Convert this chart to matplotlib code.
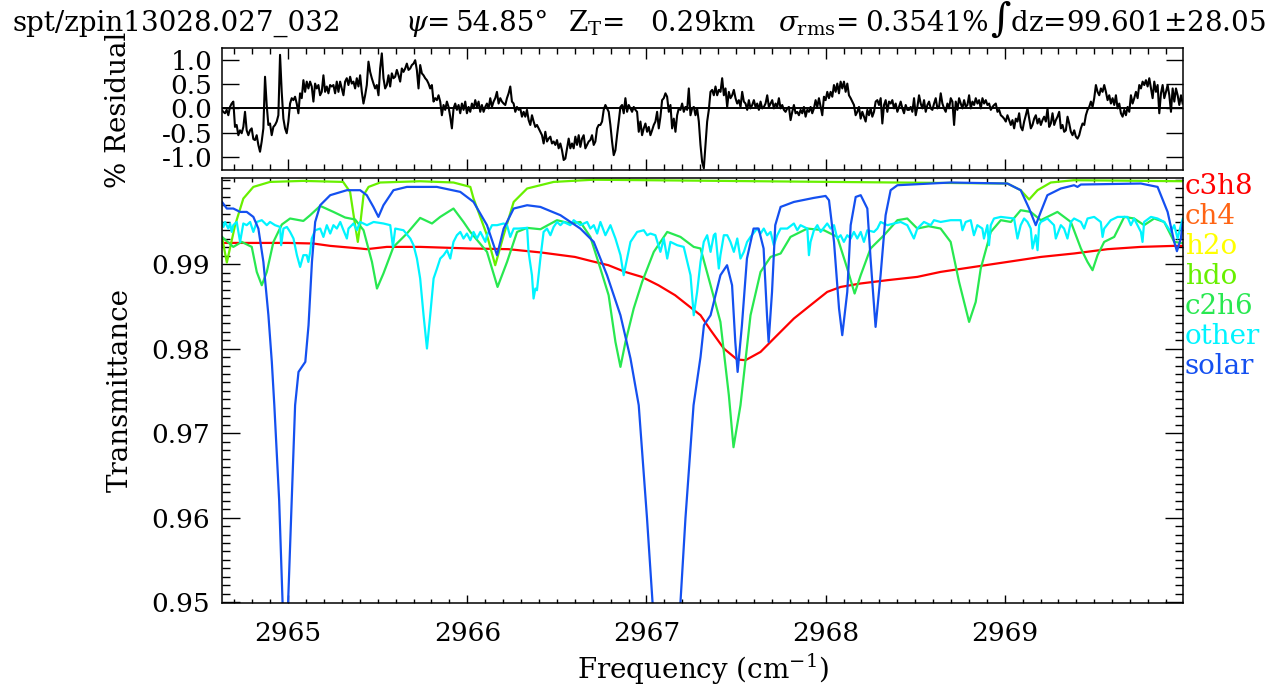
import numpy as np
import matplotlib.pyplot as plt
from matplotlib.ticker import MultipleLocator, FixedLocator, FormatStrFormatter

plt.rcParams['font.family'] = ['DejaVu Serif']
plt.rcParams['mathtext.fontset'] = 'dejavuserif'

# ---- residual (%) on an even frequency grid
resid_start, resid_end = 2964.629, 2969.993
resid = [
    -0.03, -0.07, -0.10, -0.03, -0.14, 0.03, 0.10, 0.14, -0.38, -0.34,
    -0.55, -0.45, -0.51, -0.38, -0.07, -0.45, -0.55, -0.45, -0.41, -0.63,
    -0.65, -0.55, -0.75, -0.89, -0.68, -0.41, 0.65, 0.07, -0.34, -0.31,
    -0.55, -0.38, -0.34, -0.27, -0.14, 1.10, 0.34, -0.21, -0.41, -0.51,
    -0.27, 0.10, 0.21, 0.17, 0.24, 0.10, -0.10, 0.31, 0.21, 0.58,
    0.34, 0.55, 0.41, 0.55, 0.45, 0.14, 0.51, 0.41, 0.48, 0.27,
    0.34, 0.68, 0.34, 0.45, 0.31, 0.48, 0.45, 0.48, 0.31, 0.55,
    0.34, 0.55, 0.41, 0.27, 0.55, 0.62, 0.48, 0.65, 0.51, 0.55,
    0.41, 0.62, 0.45, 0.68, 0.34, 0.10, 0.27, 0.48, 0.96, 0.75,
    0.62, 0.51, 0.41, 0.48, 0.27, 0.82, 1.13, 0.62, 0.41, 0.48,
    0.68, 0.45, 0.72, 0.62, 0.65, 0.79, 0.68, 0.55, 0.82, 0.75,
    0.82, 0.92, 0.79, 0.82, 0.89, 0.92, 0.99, 0.79, 0.41, 0.89,
    0.72, 0.68, 0.62, 0.58, 0.51, 0.41, 0.48, 0.14, 0.21, 0.17,
    0.27, 0.14, -0.14, 0.07, -0.03, 0.14, 0.03, -0.17, -0.41, 0.00,
    0.10, -0.03, 0.07, -0.10, 0.10, -0.03, 0.14, -0.10, 0.03, -0.07,
    0.10, 0.00, 0.17, 0.03, 0.14, -0.07, 0.07, -0.07, 0.03, 0.10,
    0.00, 0.21, 0.03, 0.14, 0.21, 0.34, 0.10, 0.21, 0.14, 0.10,
    0.07, 0.21, 0.31, 0.45, 0.14, 0.10, -0.07, 0.03, -0.03, 0.00,
    -0.17, -0.07, -0.17, -0.03, -0.24, -0.34, -0.14, -0.27, -0.38, -0.34,
    -0.41, -0.48, -0.55, -0.72, -0.48, -0.68, -0.62, -0.58, -0.72, -0.68,
    -0.75, -0.65, -0.82, -0.72, -0.86, -1.06, -1.03, -0.82, -0.62, -0.82,
    -0.72, -0.82, -0.58, -0.75, -0.55, -0.79, -0.62, -0.55, -0.82, -0.75,
    -0.68, -0.65, -0.55, -0.75, -0.68, -0.41, -0.34, -0.34, -0.27, -0.03,
    0.07, 0.00, -0.07, -0.34, -0.68, -0.96, -0.86, -0.55, -0.27, 0.03,
    0.07, -0.10, 0.21, -0.07, 0.07, 0.00, -0.07, 0.03, -0.03, -0.07,
    -0.48, -0.27, -0.55, -0.41, -0.31, -0.48, -0.38, -0.55, -0.45, -0.34,
    -0.27, -0.07, -0.41, -0.17, 0.17, 0.21, 0.31, 0.24, -0.07, 0.07,
    -0.41, -0.21, -0.48, -0.14, 0.00, -0.03, 0.10, -0.07, 0.03, -0.03,
    0.41, -0.14, 0.00, 0.03, -0.14, 0.00, -0.27, -0.75, -1.10,
    -1.23, -0.75, -0.27, -0.03, 0.34, 0.38, 0.27, 0.45, 0.27, 0.38,
    0.34, 0.62, 0.27, 0.41, 0.03, 0.34, 0.21, 0.27, 0.38, 0.21,
    0.10, 0.17, 0.03, 0.34, 0.14, 0.10, -0.03, 0.17, 0.00, 0.07,
    0.17, 0.03, 0.10, -0.03, 0.14, 0.00, 0.03, 0.10, 0.27, 0.03,
    0.10, 0.17, 0.00, 0.10, 0.03, 0.21, 0.00, 0.07, -0.03, -0.07,
    0.00, 0.03, -0.24, -0.07, 0.07, -0.10, -0.07, -0.14, -0.03, -0.10,
    0.03, -0.17, -0.03, -0.07, 0.03, -0.10, 0.00, 0.17, 0.03, 0.21,
    0.03, -0.14, 0.24, 0.17, 0.34, 0.21, 0.34, 0.24, 0.48, 0.34,
    0.51, 0.31, 0.55, 0.41, 0.55, 0.34, 0.51, 0.27, 0.21, 0.14,
    0.07, -0.14, -0.07, 0.03, -0.21, -0.07, -0.17, -0.27, -0.03, -0.14,
    0.00, -0.17, -0.07, 0.14, 0.17, 0.07, 0.21, -0.31, 0.07, 0.17,
    -0.07, 0.14, 0.10, 0.17, 0.00, 0.10, -0.07, 0.03, 0.14, 0.00,
    -0.10, 0.07, -0.03, -0.03, 0.03, -0.07, 0.21, -0.14, 0.03, 0.27,
    0.10, 0.00, 0.17, -0.07, 0.07, 0.14, 0.00, -0.03, 0.10, 0.21,
    0.00, 0.03, 0.31, 0.10, 0.00, -0.07, 0.10, 0.00, 0.21, 0.14,
    -0.34, 0.14, -0.03, 0.21, 0.10, 0.00, 0.17, 0.03, 0.07, 0.27,
    0.00, 0.14, 0.07, 0.21, 0.10, 0.17, 0.00, 0.21, 0.10, 0.17,
    0.07, 0.10, -0.03, 0.03, 0.07, 0.10, -0.07, -0.03, -0.14, -0.17,
    -0.21, -0.27, -0.14, -0.24, -0.34, -0.24, -0.41, -0.21, -0.27, -0.10,
    -0.38, -0.45, -0.27, -0.14, 0.00, -0.21, -0.41, -0.34, -0.21, -0.14,
    -0.31, -0.21, -0.34, -0.24, -0.17, -0.27, 0.00, -0.38, -0.31, -0.10,
    -0.34, -0.24, -0.17, -0.07, -0.41, -0.34, -0.48, -0.45, -0.17, -0.31,
    -0.48, -0.55, -0.45, -0.58, -0.62, -0.55, -0.41, -0.31, -0.34, -0.14,
    -0.03, 0.03, 0.14, 0.03, 0.21, 0.48, 0.34, 0.27, 0.41, 0.34,
    0.48, 0.34, 0.17, 0.27, 0.10, 0.21, 0.07, 0.27, 0.00, 0.10,
    -0.10, -0.17, -0.03, -0.14, 0.03, -0.07, 0.27, 0.10, 0.21, 0.34,
    0.21, 0.48, 0.41, 0.55, 0.48, 0.58, 0.45, 0.62, 0.41, 0.21,
    0.55, 0.34, 0.48, -0.10, 0.31, 0.48, 0.21, 0.34, 0.48, 0.27,
    -0.07, 0.41, 0.14, 0.41, 0.27, 0.07, 0.27, 0.10,
]

# ---- transmittance spectra (frequency in cm-1, transmittance)
c3h8_freq = [2964.631, 2965.000, 2965.140, 2965.235, 2965.402, 2965.439, 2965.551,
             2965.737, 2966.017, 2966.229, 2966.415, 2966.601, 2966.694, 2966.788,
             2966.881, 2966.974, 2967.067, 2967.160, 2967.254, 2967.302, 2967.358,
             2967.432, 2967.506, 2967.553, 2967.637, 2967.730, 2967.823, 2967.916,
             2968.009, 2968.084, 2968.196, 2968.345, 2968.512, 2968.642, 2968.828,
             2969.015, 2969.201, 2969.387, 2969.574, 2969.760, 2969.946, 2969.994]
c3h8_trans = [0.99252, 0.99252, 0.99245, 0.99217, 0.99186, 0.99178, 0.99205,
              0.99205, 0.99186, 0.99178, 0.99138, 0.99086, 0.99036, 0.98988,
              0.98909, 0.98850, 0.98751, 0.98633, 0.98476, 0.98396, 0.98220,
              0.98002, 0.97872, 0.97864, 0.97962, 0.98160, 0.98357, 0.98515,
              0.98672, 0.98731, 0.98772, 0.98811, 0.98850, 0.98909, 0.98968,
              0.99027, 0.99086, 0.99127, 0.99178, 0.99205, 0.99217, 0.99217]

hdo_freq = [2964.631, 2964.658, 2964.704, 2964.750, 2964.806, 2964.899, 2965.084,
            2965.307, 2965.346, 2965.374, 2965.389, 2965.402, 2965.421, 2965.449,
            2965.514, 2965.737, 2965.923, 2966.017, 2966.035, 2966.110, 2966.156,
            2966.203, 2966.259, 2966.334, 2966.482, 2966.704, 2969.015, 2969.089,
            2969.136, 2969.183, 2969.257, 2969.385, 2969.994]
hdo_trans = [0.99320, 0.99020, 0.99462, 0.99777, 0.99915, 0.99974, 0.99986,
             0.99974, 0.99856, 0.99462, 0.99264, 0.99462, 0.99817, 0.99915,
             0.99967, 0.99982, 0.99967, 0.99915, 0.99777, 0.99343, 0.98988,
             0.99343, 0.99737, 0.99896, 0.99974, 1.00000, 0.99955, 0.99876,
             0.99766, 0.99876, 0.99967, 0.99994, 0.99982]

c2h6_freq = [2964.631, 2964.694, 2964.741, 2964.797, 2964.825, 2964.853, 2964.881,
             2964.918, 2964.965, 2965.011, 2965.085, 2965.123, 2965.179, 2965.253,
             2965.318, 2965.374, 2965.421, 2965.468, 2965.496, 2965.532, 2965.588,
             2965.663, 2965.737, 2965.803, 2965.849, 2965.923, 2965.979, 2966.017,
             2966.110, 2966.169, 2966.222, 2966.278, 2966.334, 2966.408, 2966.501,
             2966.575, 2966.631, 2966.687, 2966.743, 2966.789, 2966.827, 2966.855,
             2966.883, 2966.929, 2966.976, 2967.041, 2967.116, 2967.190, 2967.264,
             2967.302, 2967.358, 2967.413, 2967.460, 2967.486, 2967.525, 2967.581,
             2967.637, 2967.693, 2967.749, 2967.804, 2967.898, 2967.991, 2968.065,
             2968.121, 2968.162, 2968.196, 2968.251, 2968.326, 2968.401, 2968.456,
             2968.512, 2968.575, 2968.642, 2968.698, 2968.745, 2968.801, 2968.838,
             2968.866, 2968.922, 2968.978, 2969.034, 2969.089, 2969.145, 2969.201,
             2969.294, 2969.369, 2969.425, 2969.462, 2969.490, 2969.518, 2969.555,
             2969.611, 2969.667, 2969.722, 2969.778, 2969.834, 2969.890, 2969.946,
             2969.994]
c2h6_trans = [0.99323, 0.99205, 0.99264, 0.99205, 0.98909, 0.98751, 0.98909,
              0.99264, 0.99470, 0.99541, 0.99512, 0.99580, 0.99690, 0.99619,
              0.99553, 0.99529, 0.99402, 0.99027, 0.98712, 0.98890, 0.99205,
              0.99363, 0.99548, 0.99482, 0.99560, 0.99659, 0.99500, 0.99382,
              0.99146, 0.98731, 0.99027, 0.99382, 0.99430, 0.99414, 0.99521,
              0.99482, 0.99500, 0.99323, 0.98949, 0.98633, 0.98080, 0.97785,
              0.98080, 0.98476, 0.98791, 0.99146, 0.99382, 0.99323, 0.99205,
              0.99186, 0.98751, 0.98317, 0.97450, 0.96834, 0.97331, 0.98396,
              0.98909, 0.99086, 0.99127, 0.99323, 0.99422, 0.99402, 0.99323,
              0.98949, 0.98653, 0.98870, 0.99186, 0.99343, 0.99521, 0.99541,
              0.99422, 0.99450, 0.99422, 0.99264, 0.98790, 0.98317, 0.98554,
              0.98949, 0.99382, 0.99521, 0.99500, 0.99639, 0.99619, 0.99521,
              0.99619, 0.99500, 0.99186, 0.99027, 0.98929, 0.99107, 0.99264,
              0.99323, 0.99560, 0.99541, 0.99462, 0.99541, 0.99500, 0.99264,
              0.99249]

other_freq = [2964.631, 2964.639, 2964.648, 2964.666, 2964.676, 2964.685, 2964.694,
              2964.713, 2964.732, 2964.750, 2964.769, 2964.788, 2964.806, 2964.825,
              2964.853, 2964.881, 2964.899, 2964.927, 2964.955, 2964.961, 2964.974,
              2964.993, 2965.011, 2965.030, 2965.049, 2965.067, 2965.085, 2965.104,
              2965.113, 2965.123, 2965.132, 2965.151, 2965.179, 2965.197, 2965.216,
              2965.235, 2965.253, 2965.272, 2965.291, 2965.309, 2965.328, 2965.337,
              2965.365, 2965.384, 2965.402, 2965.440, 2965.477, 2965.532, 2965.570,
              2965.585, 2965.598, 2965.644, 2965.682, 2965.700, 2965.719, 2965.737,
              2965.756, 2965.775, 2965.793, 2965.812, 2965.831, 2965.849, 2965.868,
              2965.887, 2965.905, 2965.923, 2965.942, 2965.961, 2965.979, 2965.998,
              2966.017, 2966.035, 2966.054, 2966.073, 2966.101, 2966.110, 2966.138,
              2966.166, 2966.203, 2966.222, 2966.240, 2966.259, 2966.287, 2966.334,
              2966.342, 2966.361, 2966.370, 2966.380, 2966.389, 2966.398, 2966.408,
              2966.426, 2966.445, 2966.464, 2966.482, 2966.501, 2966.520, 2966.538,
              2966.575, 2966.594, 2966.631, 2966.669, 2966.687, 2966.706, 2966.725,
              2966.743, 2966.771, 2966.799, 2966.827, 2966.855, 2966.873, 2966.892,
              2966.911, 2966.948, 2966.985, 2967.004, 2967.022, 2967.050, 2967.078,
              2967.097, 2967.116, 2967.134, 2967.172, 2967.208, 2967.246, 2967.264,
              2967.283, 2967.302, 2967.320, 2967.339, 2967.358, 2967.376, 2967.385,
              2967.404, 2967.413, 2967.432, 2967.451, 2967.469, 2967.488, 2967.507,
              2967.525, 2967.544, 2967.562, 2967.581, 2967.618, 2967.637, 2967.655,
              2967.674, 2967.693, 2967.711, 2967.730, 2967.749, 2967.786, 2967.823,
              2967.842, 2967.860, 2967.898, 2967.907, 2967.916, 2967.935, 2967.954,
              2967.972, 2968.009, 2968.028, 2968.047, 2968.065, 2968.084, 2968.102,
              2968.121, 2968.140, 2968.158, 2968.177, 2968.196, 2968.214, 2968.233,
              2968.270, 2968.289, 2968.307, 2968.345, 2968.382, 2968.419, 2968.456,
              2968.493, 2968.512, 2968.549, 2968.587, 2968.605, 2968.642, 2968.698,
              2968.754, 2968.764, 2968.782, 2968.810, 2968.828, 2968.847, 2968.875,
              2968.884, 2968.903, 2968.912, 2968.922, 2968.940, 2968.978, 2969.052,
              2969.071, 2969.089, 2969.108, 2969.127, 2969.145, 2969.155, 2969.173,
              2969.183, 2969.192, 2969.201, 2969.238, 2969.275, 2969.285, 2969.313,
              2969.331, 2969.350, 2969.369, 2969.387, 2969.425, 2969.443, 2969.462,
              2969.499, 2969.536, 2969.546, 2969.555, 2969.592, 2969.630, 2969.685,
              2969.704, 2969.722, 2969.760, 2969.769, 2969.778, 2969.816, 2969.853,
              2969.890, 2969.927, 2969.946, 2969.965, 2969.983, 2969.994]
other_trans = [0.99500, 0.99441, 0.99500, 0.99422, 0.99482, 0.99382, 0.99462,
               0.99500, 0.99264, 0.99482, 0.99462, 0.99500, 0.99382, 0.99500,
               0.99521, 0.99462, 0.99500, 0.99462, 0.99441, 0.99225, 0.99422,
               0.99441, 0.99382, 0.99304, 0.99107, 0.98968, 0.99107, 0.99107,
               0.99027, 0.99146, 0.99304, 0.99402, 0.99422, 0.99323, 0.99462,
               0.99363, 0.99462, 0.99422, 0.99500, 0.99402, 0.99304, 0.99422,
               0.99482, 0.99402, 0.99500, 0.99462, 0.99500, 0.99482, 0.99462,
               0.99205, 0.99422, 0.99402, 0.99304, 0.99225, 0.99067, 0.98831,
               0.98396, 0.98002, 0.98396, 0.98831, 0.98949, 0.99067, 0.99107,
               0.99166, 0.99067, 0.99264, 0.99343, 0.99382, 0.99304, 0.99363,
               0.99284, 0.99382, 0.99304, 0.99382, 0.99264, 0.99343, 0.99462,
               0.99462, 0.99482, 0.99462, 0.99323, 0.99422, 0.99422, 0.99430,
               0.99146, 0.98870, 0.98594, 0.98712, 0.98692, 0.98870, 0.99067,
               0.99382, 0.99422, 0.99343, 0.99441, 0.99500, 0.99462, 0.99500,
               0.99462, 0.99521, 0.99462, 0.99500, 0.99422, 0.99462, 0.99363,
               0.99500, 0.99343, 0.99462, 0.99304, 0.99107, 0.98870, 0.99067,
               0.99264, 0.99382, 0.99402, 0.99343, 0.99363, 0.99343, 0.99146,
               0.99304, 0.99067, 0.99264, 0.99225, 0.99205, 0.98870, 0.98396,
               0.98672, 0.99027, 0.99264, 0.99343, 0.99146, 0.99343, 0.99363,
               0.98949, 0.99107, 0.99343, 0.99343, 0.99264, 0.99146, 0.99304,
               0.99067, 0.99146, 0.99264, 0.99323, 0.99422, 0.99363, 0.99422,
               0.99343, 0.99382, 0.99225, 0.99343, 0.99422, 0.99422, 0.99482,
               0.99402, 0.99462, 0.99422, 0.99107, 0.99264, 0.99402, 0.99462,
               0.99382, 0.99482, 0.99422, 0.99462, 0.99304, 0.99343, 0.99264,
               0.99343, 0.99304, 0.99382, 0.99304, 0.99382, 0.99264, 0.99402,
               0.99382, 0.99422, 0.99500, 0.99462, 0.99482, 0.99500, 0.99462,
               0.99304, 0.99422, 0.99500, 0.99462, 0.99521, 0.99500, 0.99521,
               0.99521, 0.99402, 0.99500, 0.99521, 0.99343, 0.99462, 0.99422,
               0.99304, 0.99462, 0.99225, 0.99462, 0.99541, 0.99560, 0.99541,
               0.99304, 0.99462, 0.99541, 0.99500, 0.99422, 0.99186, 0.99343,
               0.99166, 0.99462, 0.99500, 0.99541, 0.99462, 0.99304, 0.99462,
               0.99422, 0.99304, 0.99500, 0.99541, 0.99500, 0.99422, 0.99541,
               0.99560, 0.99500, 0.99323, 0.99422, 0.99521, 0.99560, 0.99560,
               0.99462, 0.99541, 0.99382, 0.99264, 0.99500, 0.99560, 0.99541,
               0.99500, 0.99382, 0.99462, 0.99304, 0.99462, 0.99541]

solar_freq = [2964.631, 2964.658, 2964.694, 2964.732, 2964.769, 2964.806, 2964.834,
              2964.862, 2964.890, 2964.909, 2964.923, 2964.950, 2964.969, 2964.985,
              2965.000, 2965.020, 2965.039, 2965.058, 2965.077, 2965.096, 2965.114,
              2965.133, 2965.151, 2965.179, 2965.235, 2965.328, 2965.402, 2965.439,
              2965.476, 2965.504, 2965.532, 2965.588, 2965.663, 2965.830, 2965.961,
              2966.035, 2966.110, 2966.166, 2966.203, 2966.259, 2966.334, 2966.408,
              2966.520, 2966.631, 2966.706, 2966.780, 2966.855, 2966.911, 2966.957,
              2967.003, 2967.034, 2967.112, 2967.190, 2967.218, 2967.263, 2967.302,
              2967.321, 2967.358, 2967.413, 2967.450, 2967.478, 2967.496, 2967.509,
              2967.533, 2967.561, 2967.598, 2967.626, 2967.654, 2967.673, 2967.682,
              2967.701, 2967.719, 2967.749, 2967.823, 2967.935, 2968.000, 2968.019,
              2968.047, 2968.075, 2968.093, 2968.121, 2968.140, 2968.168, 2968.196,
              2968.233, 2968.251, 2968.279, 2968.307, 2968.335, 2968.363, 2968.401,
              2968.698, 2969.015, 2969.089, 2969.136, 2969.173, 2969.201, 2969.238,
              2969.313, 2969.387, 2969.406, 2969.425, 2969.760, 2969.853, 2969.909,
              2969.946, 2969.961, 2969.983, 2969.994]
solar_trans = [0.99737, 0.99659, 0.99659, 0.99619, 0.99619, 0.99560, 0.99422,
               0.99027, 0.98396, 0.97844, 0.97331, 0.96207, 0.95000, 0.94000,
               0.95000, 0.96200, 0.97331, 0.97725, 0.97785, 0.97844, 0.98278,
               0.99027, 0.99500, 0.99698, 0.99817, 0.99876, 0.99876, 0.99817,
               0.99678, 0.99560, 0.99698, 0.99876, 0.99915, 0.99915, 0.99856,
               0.99737, 0.99462, 0.99107, 0.99422, 0.99659, 0.99698, 0.99678,
               0.99580, 0.99422, 0.99264, 0.98870, 0.98396, 0.97884, 0.97331,
               0.96000, 0.95000, 0.92500, 0.95000, 0.96000, 0.97331, 0.97903,
               0.98278, 0.98396, 0.98870, 0.98988, 0.98751, 0.98080, 0.97725,
               0.98278, 0.99067, 0.99422, 0.99422, 0.99186, 0.98396, 0.98080,
               0.98672, 0.99462, 0.99678, 0.99737, 0.99785, 0.99808, 0.99757,
               0.99264, 0.98476, 0.98160, 0.98672, 0.99462, 0.99796, 0.99817,
               0.99659, 0.99067, 0.98258, 0.98870, 0.99580, 0.99876, 0.99935,
               0.99967, 0.99955, 0.99876, 0.99659, 0.99462, 0.99619, 0.99817,
               0.99896, 0.99935, 0.99915, 0.99943, 0.99955, 0.99915, 0.99619,
               0.99264, 0.99154, 0.99304, 0.99500]

species = ['c3h8', 'ch4', 'h2o', 'hdo', 'c2h6', 'other', 'solar']
colors = {'c3h8': '#ff0000', 'ch4': '#ff6414', 'h2o': '#ffff00', 'hdo': '#68f000',
          'c2h6': '#28e850', 'other': '#00f4ff', 'solar': '#1450f0'}
trans_ticks = [0.95, 0.96, 0.97, 0.98, 0.99]

title_parts = ['spt/zpin13028.027_032', r'$\psi$=', '54.85°', r'Z$_\mathrm{T}$=',
               '0.29km', r'$\sigma_\mathrm{rms}$=', '0.3541%', r'$\int$dz=99.601±28.05']

fig = plt.figure(figsize=(12.87, 6.85), dpi=100)
ax_r = fig.add_axes([0.1725, 0.7518, 0.7467, 0.1781])
ax_t = fig.add_axes([0.1725, 0.1197, 0.7467, 0.6204])

xlo, xhi = 2964.631, 2969.995

# residual panel
resid_freq = np.linspace(resid_start, resid_end, len(resid))
ax_r.plot(resid_freq, resid, color='black', lw=1.5)
ax_r.axhline(0, color='black', lw=1.4)
ax_r.set_xlim(xlo, xhi)
ax_r.set_ylim(-1.265, 1.24)
ax_r.yaxis.set_major_locator(MultipleLocator(0.5))
ax_r.yaxis.set_major_formatter(FormatStrFormatter('%.1f'))
ax_r.xaxis.set_major_locator(MultipleLocator(1))
ax_r.xaxis.set_minor_locator(MultipleLocator(0.1))
ax_r.tick_params(axis='x', which='major', direction='in', length=8, width=1,
                 top=True, bottom=True, labelbottom=False)
ax_r.tick_params(axis='x', which='minor', direction='in', length=4.3, width=1,
                 top=True, bottom=True)
ax_r.tick_params(axis='y', which='major', direction='in', length=12, width=1,
                 left=True, right=True, labelsize=19, pad=7)

# transmittance panel
ax_t.plot(c3h8_freq, c3h8_trans, color=colors['c3h8'], lw=1.6)
ax_t.plot(hdo_freq, hdo_trans, color=colors['hdo'], lw=1.6)
ax_t.plot(c2h6_freq, c2h6_trans, color=colors['c2h6'], lw=1.6)
ax_t.plot(other_freq, other_trans, color=colors['other'], lw=1.6)
ax_t.plot(solar_freq, solar_trans, color=colors['solar'], lw=1.6)
ax_t.set_xlim(xlo, xhi)
ax_t.set_ylim(0.9499, 1.0002)
ax_t.yaxis.set_major_locator(FixedLocator(trans_ticks))
ax_t.yaxis.set_minor_locator(MultipleLocator(0.001))
ax_t.yaxis.set_major_formatter(FormatStrFormatter('%.2f'))
ax_t.xaxis.set_major_locator(MultipleLocator(1))
ax_t.xaxis.set_minor_locator(MultipleLocator(0.1))
ax_t.tick_params(axis='x', which='major', direction='in', length=6, width=1,
                 top=True, bottom=True, labelsize=19, pad=13)
ax_t.tick_params(axis='x', which='minor', direction='in', length=3, width=1,
                 top=True, bottom=True)
ax_t.tick_params(axis='y', which='major', direction='in', length=13, width=1,
                 left=True, right=True, labelsize=19, pad=9)
ax_t.tick_params(axis='y', which='minor', direction='in', length=6, width=1,
                 left=True, right=True)
ax_t.set_xlabel(r'Frequency (cm$^{-1}$)', fontsize=20, labelpad=4)

for ax in (ax_r, ax_t):
    for s in ax.spines.values():
        s.set_linewidth(1.1)

fig.text(120 / 1287, 1 - 390 / 685, 'Transmittance', rotation=90,
         ha='center', va='center', fontsize=20)
fig.text(118 / 1287, 1 - 110 / 685, '% Residual', rotation=90,
         ha='center', va='center', fontsize=20)

# species key on the right
for i, name in enumerate(species):
    ax_t.text(1.002, 0.9624 - i * 0.0706, name, color=colors[name],
              transform=ax_t.transAxes, ha='left', va='baseline', fontsize=20)

# title line
title_x = [12, 405, 456, 568, 650, 778, 865, 990]
for txt, px in zip(title_parts, title_x):
    fig.text(px / 1287, 1 - 31 / 685, txt, ha='left', va='baseline', fontsize=20)

fig.savefig('out.png', dpi=100)
